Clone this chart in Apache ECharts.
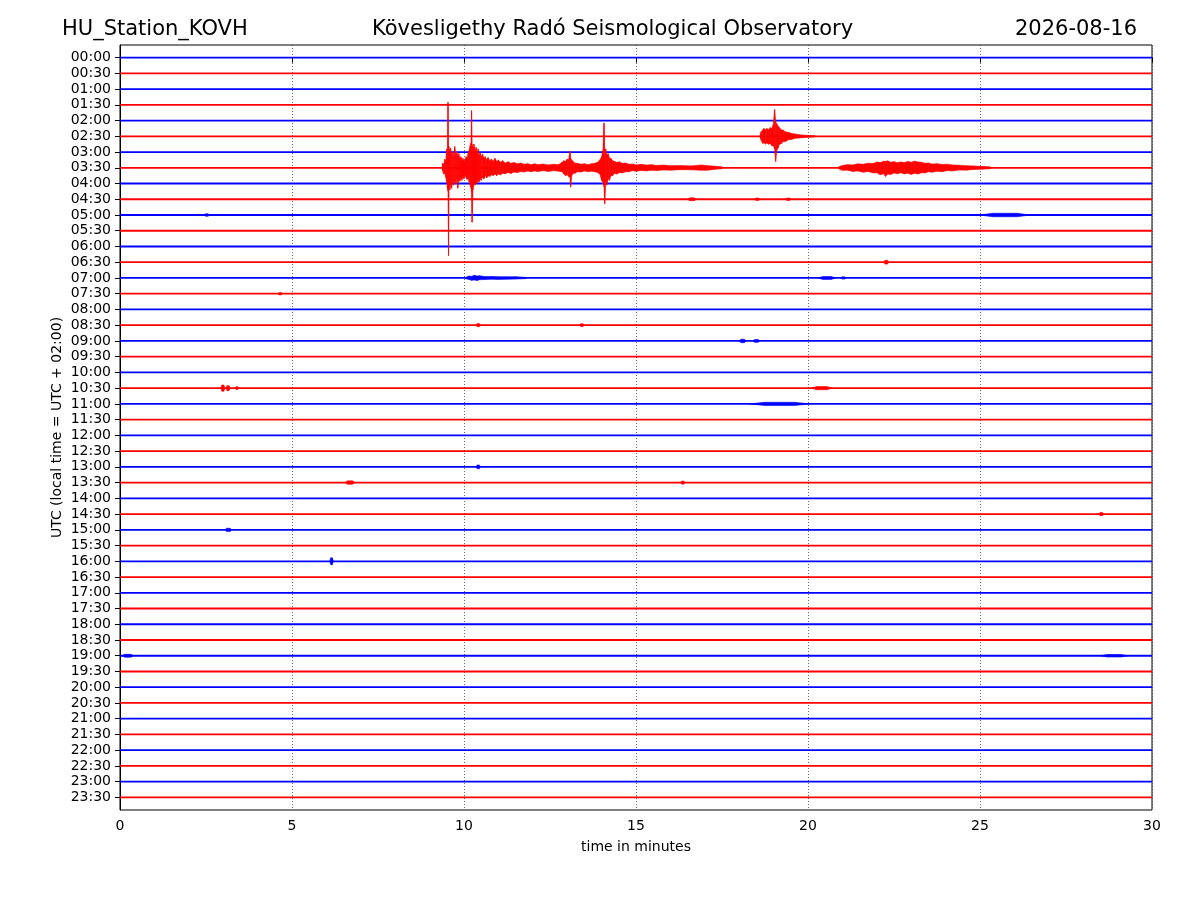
<!DOCTYPE html>
<html>
<head>
<meta charset="utf-8">
<title>HU_Station_KOVH dayplot</title>
<script src="https://cdn.jsdelivr.net/npm/echarts@6/dist/echarts.min.js"></script>
<style>
html, body { margin: 0; padding: 0; background: #fff; }
#chart { width: 1200px; height: 900px; }
</style>
</head>
<body>
<div id="chart"></div>
<script>
// row labels (one trace per half hour)
var rowLabels = ['00:00', '00:30', '01:00', '01:30', '02:00', '02:30', '03:00', '03:30',
	'04:00', '04:30', '05:00', '05:30', '06:00', '06:30', '07:00', '07:30',
	'08:00', '08:30', '09:00', '09:30', '10:00', '10:30', '11:00', '11:30',
	'12:00', '12:30', '13:00', '13:30', '14:00', '14:30', '15:00', '15:30',
	'16:00', '16:30', '17:00', '17:30', '18:00', '18:30', '19:00', '19:30',
	'20:00', '20:30', '21:00', '21:30', '22:00', '22:30', '23:00', '23:30'];
var minuteTicks = [0, 5, 10, 15, 20, 25, 30];
var traceColors = ['#0000ff', '#ff0000'];

// envelopes: [minute, amplitude up, amplitude down] (in trace spacings)
var quake0330 = [
	[9.36, 0.05, 0.05], [9.38, 0.30, 0.20], [9.41, 0.20, 0.40], [9.44, 0.55, 0.35],
	[9.47, 0.40, 0.60], [9.50, 1.20, 0.90], [9.52, 0.90, 1.30], [9.535, 4.16, 1.50],
	[9.55, 1.40, 5.58], [9.565, 1.30, 1.20], [9.59, 0.90, 1.40], [9.61, 1.25, 0.90],
	[9.64, 0.80, 1.30], [9.67, 1.00, 0.80], [9.70, 0.70, 1.10], [9.73, 1.35, 0.80],
	[9.76, 0.80, 1.00], [9.79, 1.00, 0.70], [9.82, 0.70, 1.30], [9.85, 0.90, 0.70],
	[9.88, 0.55, 0.85], [9.91, 0.70, 0.60], [9.94, 0.45, 0.80], [9.97, 0.60, 0.50],
	[10.00, 0.40, 0.70], [10.03, 0.50, 0.45], [10.06, 0.70, 0.60], [10.09, 0.55, 0.75],
	[10.12, 0.90, 0.60], [10.15, 1.10, 0.90], [10.18, 1.40, 1.10], [10.205, 1.60, 1.30],
	[10.22, 3.63, 1.50], [10.235, 1.50, 3.46], [10.26, 1.20, 1.40], [10.29, 1.50, 1.00],
	[10.32, 1.00, 1.10], [10.35, 1.30, 0.80], [10.38, 0.80, 1.00], [10.41, 1.20, 0.75],
	[10.44, 0.75, 0.90], [10.47, 0.95, 0.65], [10.50, 0.70, 0.80], [10.54, 0.87, 0.60],
	[10.58, 0.60, 0.70], [10.62, 0.70, 0.50], [10.66, 0.50, 0.65], [10.70, 0.65, 0.50],
	[10.75, 0.45, 0.55], [10.80, 0.55, 0.45], [10.85, 0.40, 0.50], [10.90, 0.60, 0.40],
	[10.95, 0.40, 0.50], [11.00, 0.50, 0.40], [11.06, 0.35, 0.45], [11.12, 0.45, 0.35],
	[11.20, 0.30, 0.38], [11.28, 0.38, 0.30], [11.36, 0.28, 0.36], [11.45, 0.33, 0.27],
	[11.55, 0.25, 0.30], [11.65, 0.30, 0.24], [11.75, 0.22, 0.27], [11.85, 0.26, 0.20],
	[11.95, 0.20, 0.25], [12.05, 0.25, 0.20], [12.15, 0.20, 0.24], [12.30, 0.24, 0.18],
	[12.45, 0.18, 0.23], [12.60, 0.22, 0.18], [12.75, 0.20, 0.22], [12.85, 0.35, 0.25],
	[12.90, 0.45, 0.40], [12.95, 0.40, 0.50], [13.00, 0.55, 0.45], [13.04, 0.50, 0.55],
	[13.08, 1.06, 0.60], [13.10, 0.60, 1.23], [13.13, 0.50, 0.50], [13.17, 0.40, 0.35],
	[13.22, 0.30, 0.35], [13.30, 0.28, 0.25], [13.40, 0.22, 0.27], [13.50, 0.26, 0.20],
	[13.60, 0.20, 0.25], [13.70, 0.25, 0.22], [13.80, 0.28, 0.25], [13.88, 0.35, 0.30],
	[13.95, 0.50, 0.40], [14.00, 0.70, 0.80], [14.04, 1.10, 0.90], [14.07, 2.84, 1.20],
	[14.09, 1.10, 2.29], [14.12, 1.20, 0.90], [14.15, 0.80, 1.10], [14.19, 0.90, 0.70],
	[14.23, 0.60, 0.80], [14.27, 0.60, 0.50], [14.32, 0.45, 0.50], [14.38, 0.40, 0.35],
	[14.45, 0.33, 0.40], [14.52, 0.38, 0.30], [14.60, 0.28, 0.33], [14.70, 0.30, 0.25],
	[14.80, 0.22, 0.25], [14.90, 0.24, 0.18], [15.00, 0.18, 0.22], [15.15, 0.22, 0.17],
	[15.30, 0.17, 0.20], [15.45, 0.20, 0.15], [15.60, 0.15, 0.18], [15.80, 0.17, 0.14],
	[16.00, 0.13, 0.15], [16.30, 0.14, 0.12], [16.60, 0.12, 0.13], [16.90, 0.18, 0.16],
	[17.10, 0.13, 0.15], [17.30, 0.10, 0.10], [17.50, 0.06, 0.06]
];
var quake0330b = [
	[20.90, 0.08, 0.08], [21.00, 0.14, 0.16], [21.15, 0.20, 0.15], [21.30, 0.18, 0.23],
	[21.45, 0.25, 0.20], [21.60, 0.22, 0.28], [21.75, 0.29, 0.24], [21.90, 0.27, 0.33],
	[22.00, 0.37, 0.31], [22.10, 0.33, 0.44], [22.20, 0.42, 0.38], [22.25, 0.40, 0.55],
	[22.32, 0.44, 0.40], [22.40, 0.35, 0.43], [22.50, 0.39, 0.33], [22.60, 0.32, 0.38],
	[22.70, 0.37, 0.31], [22.80, 0.33, 0.39], [22.90, 0.40, 0.34], [23.00, 0.35, 0.42],
	[23.10, 0.42, 0.35], [23.20, 0.37, 0.40], [23.30, 0.35, 0.31], [23.40, 0.28, 0.33],
	[23.50, 0.31, 0.25], [23.60, 0.24, 0.28], [23.75, 0.26, 0.22], [23.90, 0.21, 0.25],
	[24.05, 0.23, 0.18], [24.20, 0.18, 0.20], [24.40, 0.16, 0.14], [24.60, 0.13, 0.15],
	[24.80, 0.12, 0.11], [25.00, 0.09, 0.10], [25.30, 0.06, 0.06]
];
var quake0230 = [
	[18.60, 0.05, 0.05], [18.64, 0.30, 0.25], [18.68, 0.40, 0.45], [18.72, 0.50, 0.40],
	[18.76, 0.40, 0.50], [18.80, 0.50, 0.42], [18.85, 0.42, 0.50], [18.90, 0.55, 0.45],
	[18.95, 0.50, 0.60], [18.99, 0.75, 0.60], [19.03, 1.70, 0.80], [19.06, 0.90, 1.60],
	[19.09, 0.80, 0.90], [19.13, 0.65, 0.75], [19.17, 0.55, 0.50], [19.22, 0.42, 0.48],
	[19.28, 0.38, 0.33], [19.35, 0.28, 0.33], [19.43, 0.25, 0.22], [19.52, 0.18, 0.20],
	[19.62, 0.15, 0.13], [19.75, 0.10, 0.11], [19.90, 0.07, 0.07], [20.20, 0.04, 0.04]
];
var burst0700 = [
	[10.05, 0.05, 0.05], [10.15, 0.12, 0.10], [10.22, 0.10, 0.15], [10.30, 0.17, 0.13],
	[10.38, 0.12, 0.16], [10.45, 0.14, 0.11], [10.60, 0.09, 0.10], [10.80, 0.10, 0.08],
	[11.00, 0.08, 0.09], [11.50, 0.08, 0.07], [11.80, 0.04, 0.04]
];
// small wiggles on quiet traces: [row, start minute, end minute, amplitude]
var blips = [
	[9, 16.5, 16.75, 0.09], [9, 18.45, 18.6, 0.08], [9, 19.35, 19.5, 0.08],
	[10, 2.45, 2.6, 0.08], [10, 25.0, 26.45, 0.11],
	[13, 22.2, 22.35, 0.12],
	[14, 20.3, 20.8, 0.09], [14, 20.95, 21.1, 0.07],
	[15, 4.6, 4.72, 0.08],
	[17, 10.35, 10.48, 0.10], [17, 13.35, 13.5, 0.09],
	[18, 18.0, 18.2, 0.11], [18, 18.4, 18.6, 0.09],
	[21, 2.93, 3.05, 0.20], [21, 3.08, 3.20, 0.16], [21, 3.35, 3.45, 0.09], [21, 20.1, 20.7, 0.10],
	[22, 18.3, 20.05, 0.10],
	[26, 10.35, 10.48, 0.12],
	[27, 6.54, 6.83, 0.11], [27, 16.3, 16.42, 0.10],
	[29, 28.45, 28.6, 0.10],
	[30, 3.05, 3.25, 0.10],
	[32, 6.1, 6.2, 0.22],
	[38, 0.05, 0.4, 0.09], [38, 28.5, 29.3, 0.08]
];

var FONT = 'DejaVu Sans';

var rowColor = function(row) {
	return traceColors[row % 2];
};

var envelopeSeries = function(row, env) {
	var data = [];
	for (var i = 0; i < env.length - 1; i++) {
		data.push([env[i][0], env[i][1], env[i][2], env[i + 1][0], env[i + 1][1], env[i + 1][2]]);
	}
	var color = rowColor(row);
	return {
		type: 'custom',
		silent: true,
		z: 5,
		encode: { x: [0, 3], y: 1 },
		data: data,
		renderItem: function(params, api) {
			var t0 = api.value(0), u0 = api.value(1), d0 = api.value(2);
			var t1 = api.value(3), u1 = api.value(4), d1 = api.value(5);
			var pts = [
				api.coord([t0, row - u0]), api.coord([t1, row - u1]),
				api.coord([t1, row + d1]), api.coord([t0, row + d0])
			];
			return {
				type: 'polygon',
				shape: { points: pts },
				style: { fill: color, stroke: color, lineWidth: 0.6 }
			};
		}
	};
};

var series = [];
// quiet traces
for (var r = 0; r < rowLabels.length; r++) {
	series.push({
		type: 'line',
		silent: true,
		showSymbol: false,
		z: 2,
		lineStyle: { color: rowColor(r), width: 1.8 },
		data: [[0, r], [30, r]]
	});
}
// small wiggles
series.push({
	type: 'custom',
	silent: true,
	z: 4,
	encode: { x: [1, 2], y: 0 },
	data: blips,
	renderItem: function(params, api) {
		var row = api.value(0), t0 = api.value(1), t1 = api.value(2), a = api.value(3);
		var q = (t1 - t0) * 0.25;
		var c = rowColor(row);
		return {
			type: 'polygon',
			shape: { points: [
				api.coord([t0, row]), api.coord([t0 + q, row - a]), api.coord([t1 - q, row - a]),
				api.coord([t1, row]), api.coord([t1 - q, row + a]), api.coord([t0 + q, row + a])
			] },
			style: { fill: c, stroke: c, lineWidth: 0.6 }
		};
	}
});
series.push(envelopeSeries(5, quake0230));
series.push(envelopeSeries(7, quake0330));
series.push(envelopeSeries(7, quake0330b));
series.push(envelopeSeries(14, burst0700));

var titleStyle = { fontFamily: FONT, fontSize: 21, fontWeight: 'normal', color: '#000' };
var axisFont = { fontFamily: FONT, fontSize: 14, color: '#000' };

var myChart = echarts.init(document.getElementById('chart'), null, { renderer: 'canvas' });
var option = {
	animation: false,
	backgroundColor: '#ffffff',
	textStyle: { fontFamily: FONT },
	title: [
		{ text: 'HU_Station_KOVH', left: 62, top: 19, padding: 0, textStyle: titleStyle },
		{ text: 'Kövesligethy Radó Seismological Observatory', left: 372, top: 19, padding: 0, textStyle: titleStyle },
		{ text: '2026-08-16', right: 63, top: 19, padding: 0, textStyle: titleStyle }
	],
	grid: {
		left: 120, right: 48, top: 45, bottom: 90,
		show: true, borderColor: '#000', borderWidth: 1, backgroundColor: 'transparent'
	},
	xAxis: {
		type: 'value',
		min: 0, max: 30, interval: 5,
		name: 'time in minutes',
		nameLocation: 'middle',
		nameGap: 30,
		nameMoveOverlap: false,
		nameTextStyle: axisFont,
		axisLine: { show: true, lineStyle: { color: '#000', width: 1 } },
		axisTick: { show: true, length: 5, lineStyle: { color: '#000' } },
		axisLabel: {
			fontFamily: FONT, fontSize: 14, color: '#000', margin: 9,
			customValues: minuteTicks
		},
		splitLine: { show: true, lineStyle: { color: '#444', width: 0.8, type: [1, 2] } }
	},
	yAxis: {
		type: 'value',
		inverse: true,
		min: -0.80, max: 47.80,
		name: 'UTC (local time = UTC + 02:00)',
		nameLocation: 'middle',
		nameGap: 56,
		nameMoveOverlap: false,
		nameRotate: 90,
		nameTextStyle: axisFont,
		axisLine: { show: true, lineStyle: { color: '#000', width: 1 } },
		axisTick: { show: true, length: 5, lineStyle: { color: '#000' }, customValues: rowLabels.map(function(l, i) { return i; }) },
		axisLabel: {
			fontFamily: FONT, fontSize: 14, color: '#000', margin: 9,
			customValues: rowLabels.map(function(l, i) { return i; }),
			formatter: function(v) { return rowLabels[Math.round(v)]; }
		},
		splitLine: { show: false }
	},
	series: series
};
myChart.setOption(option);
</script>
</body>
</html>
